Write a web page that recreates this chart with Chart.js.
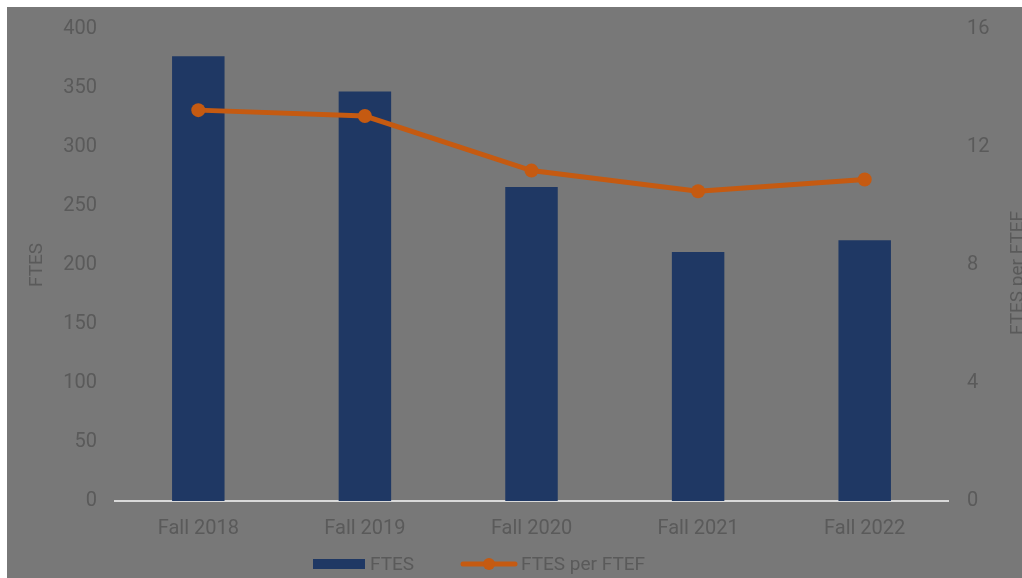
<!DOCTYPE html>
<html><head><meta charset="utf-8">
<script src="https://cdn.jsdelivr.net/npm/chart.js@4"></script>
<style>
html,body{margin:0;padding:0;background:#fff;width:1022px;height:578px;overflow:hidden}
#wrap{position:absolute;left:7px;top:7px;width:1015px;height:571px;background:#787878}
canvas{display:block}
</style></head><body>
<div id="wrap"><canvas id="c" width="1015" height="571"></canvas></div>
<script>
const categories = ['Fall 2018', 'Fall 2019', 'Fall 2020', 'Fall 2021', 'Fall 2022'];
const ftes = [377, 347, 266, 211, 221];
const ftesPerFtef = [13.25, 13.05, 11.2, 10.5, 10.9];
const leftAxisTitle = 'FTES';
const rightAxisTitle = 'FTES per FTEF';

const FONT = 'Roboto, "Liberation Sans", sans-serif';
const TEXT = '#5a5a5a';
const BAR = '#1F3864';
const LINE = '#C55A11';

const rightTitlePlugin = {
  id: 'rightTitle',
  afterDraw(chart) {
    const ctx = chart.ctx;
    const area = chart.chartArea;
    ctx.save();
    ctx.translate(1016, (area.top + area.bottom) / 2 + 8);
    ctx.rotate(-Math.PI / 2);
    ctx.font = '19px ' + FONT;
    ctx.fillStyle = TEXT;
    ctx.textAlign = 'center';
    ctx.textBaseline = 'alphabetic';
    ctx.fillText(rightAxisTitle, 0, 0);
    ctx.restore();
  }
};

const legendPlugin = {
  id: 'customLegend',
  afterDraw(chart) {
    const ctx = chart.ctx;
    const ds = chart.data.datasets;
    const cy = 557;
    ctx.save();
    ctx.font = '19px ' + FONT;
    ctx.textBaseline = 'middle';
    ctx.textAlign = 'left';
    // bar item
    ctx.fillStyle = ds[1].backgroundColor;
    ctx.fillRect(306, cy - 5, 52, 10);
    ctx.fillStyle = TEXT;
    ctx.fillText(ds[1].label, 363, cy + 1);
    // line item
    ctx.strokeStyle = ds[0].borderColor;
    ctx.lineWidth = 5;
    ctx.lineCap = 'round';
    ctx.beginPath();
    ctx.moveTo(456, cy);
    ctx.lineTo(508, cy);
    ctx.stroke();
    ctx.fillStyle = ds[0].backgroundColor;
    ctx.beginPath();
    ctx.arc(482, cy, 6, 0, Math.PI * 2);
    ctx.fill();
    ctx.fillStyle = TEXT;
    ctx.fillText(ds[0].label, 514, cy + 1);
    ctx.restore();
  }
};

function noVPad(s) { s.paddingTop = 0; s.paddingBottom = 0; }

new Chart(document.getElementById('c'), {
  data: {
    labels: categories,
    datasets: [
      {
        type: 'line',
        label: 'FTES per FTEF',
        data: ftesPerFtef,
        yAxisID: 'y1',
        borderColor: LINE,
        backgroundColor: LINE,
        borderWidth: 5,
        pointRadius: 7,
        pointBorderWidth: 0,
        pointBackgroundColor: LINE,
        tension: 0,
        order: 0
      },
      {
        type: 'bar',
        label: 'FTES',
        data: ftes,
        yAxisID: 'y',
        backgroundColor: BAR,
        borderWidth: 0,
        barPercentage: 0.315,
        categoryPercentage: 1,
        order: 1
      }
    ]
  },
  options: {
    responsive: false,
    animation: false,
    devicePixelRatio: 1,
    layout: { padding: { top: 22, left: 0, right: 0, bottom: 0 } },
    plugins: { legend: { display: false }, tooltip: { enabled: false } },
    scales: {
      x: {
        grid: { display: false, drawTicks: false },
        border: { display: true, color: '#d9d9d9', width: 2 },
        ticks: { color: TEXT, font: { family: FONT, size: 20 }, padding: 16, maxRotation: 0 },
        afterFit(s) { s.height = 77; }
      },
      y: {
        position: 'left',
        min: 0, max: 400,
        grid: { display: false, drawTicks: false },
        border: { display: false },
        ticks: { stepSize: 50, color: TEXT, font: { family: FONT, size: 20 }, padding: 18 },
        title: { display: true, text: leftAxisTitle, color: TEXT, font: { family: FONT, size: 19 }, padding: { top: 19, bottom: 0 } },
        afterFit(s) { s.width = 108; noVPad(s); }
      },
      y1: {
        position: 'right',
        min: 0, max: 16,
        grid: { display: false, drawTicks: false },
        border: { display: false },
        ticks: { stepSize: 4, color: TEXT, font: { family: FONT, size: 20 }, padding: 19 },
        afterFit(s) { s.width = 74; noVPad(s); }
      }
    }
  },
  plugins: [rightTitlePlugin, legendPlugin]
});
</script>
</body></html>
